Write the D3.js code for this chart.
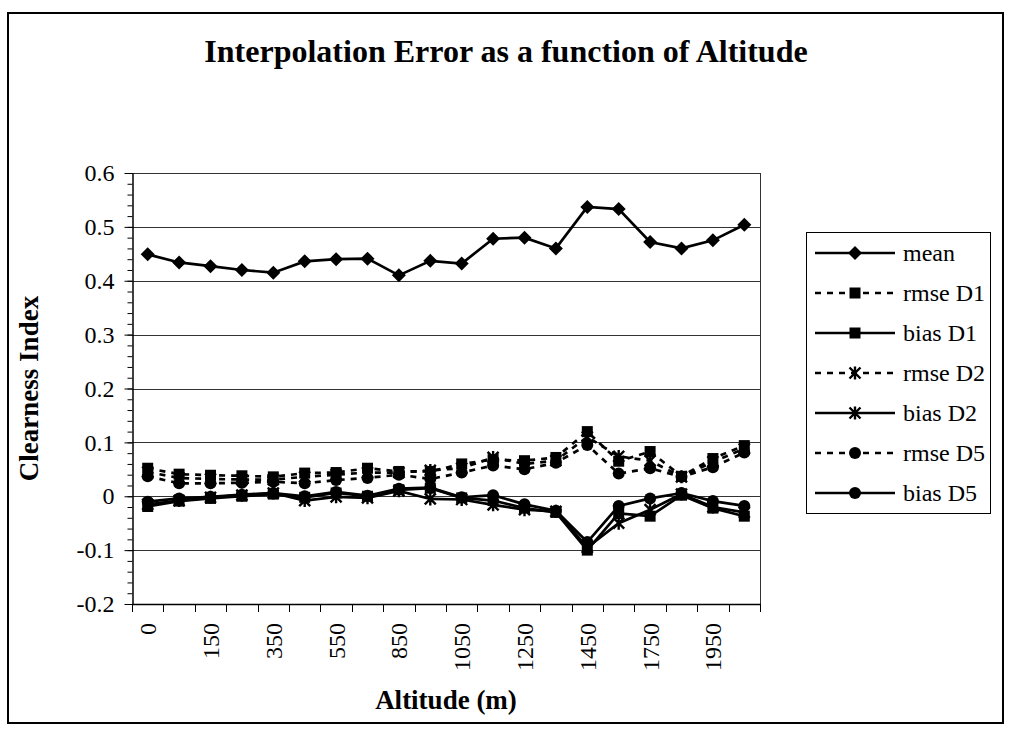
<!DOCTYPE html>
<html>
<head>
<meta charset="utf-8">
<script src="https://cdn.jsdelivr.net/npm/d3@7"></script>
<style>
  body { margin: 0; background: #fff; }
  svg { display: block; }
  svg text { font-family: "Liberation Serif", "Times New Roman", serif; fill: #000; }
</style>
</head>
<body>
<svg id="chart" width="1011" height="736"></svg>
<script>
// altitude classes (only every other one is labelled on the axis)
const altitudes = ['0', '50', '150', '250', '350', '450', '550', '650', '850', '950',
  '1050', '1150', '1250', '1350', '1450', '1550', '1750', '1850', '1950', '2050']

const mean   = [0.449, 0.434, 0.427, 0.420, 0.415, 0.436, 0.440, 0.441, 0.410, 0.437,
                0.432, 0.478, 0.480, 0.460, 0.537, 0.533, 0.472, 0.460, 0.475, 0.504]
const rmseD1 = [0.052, 0.041, 0.039, 0.038, 0.036, 0.043, 0.044, 0.052, 0.046, 0.046,
                0.060, 0.068, 0.066, 0.072, 0.120, 0.065, 0.083, 0.037, 0.070, 0.094]
const biasD1 = [-0.019, -0.009, -0.004, 0.000, 0.004, -0.002, 0.006, 0.000, 0.012, 0.015,
                -0.003, -0.008, -0.022, -0.030, -0.100, -0.032, -0.037, 0.002, -0.022, -0.037]
const rmseD2 = [0.045, 0.034, 0.032, 0.031, 0.031, 0.036, 0.040, 0.044, 0.044, 0.048,
                0.052, 0.072, 0.060, 0.066, 0.110, 0.074, 0.066, 0.036, 0.064, 0.088]
const biasD2 = [-0.015, -0.008, -0.002, 0.002, 0.006, -0.008, -0.001, -0.003, 0.010, -0.005,
                -0.006, -0.016, -0.025, -0.028, -0.095, -0.050, -0.025, 0.004, -0.020, -0.030]
const rmseD5 = [0.037, 0.024, 0.024, 0.025, 0.027, 0.024, 0.030, 0.034, 0.040, 0.032,
                0.044, 0.057, 0.050, 0.062, 0.095, 0.042, 0.052, 0.036, 0.054, 0.081]
const biasD5 = [-0.010, -0.004, -0.001, 0.003, 0.006, 0.000, 0.008, 0.001, 0.014, 0.016,
                -0.002, 0.002, -0.015, -0.027, -0.085, -0.018, -0.004, 0.006, -0.009, -0.018]

const yTicks = [-0.2, -0.1, 0, 0.1, 0.2, 0.3, 0.4, 0.5, 0.6]

const series = [
  {name: 'mean',    values: mean,   marker: 'diamond',  dashed: false},
  {name: 'rmse D1', values: rmseD1, marker: 'square',   dashed: true},
  {name: 'bias D1', values: biasD1, marker: 'square',   dashed: false},
  {name: 'rmse D2', values: rmseD2, marker: 'asterisk', dashed: true},
  {name: 'bias D2', values: biasD2, marker: 'asterisk', dashed: false},
  {name: 'rmse D5', values: rmseD5, marker: 'circle',   dashed: true},
  {name: 'bias D5', values: biasD5, marker: 'circle',   dashed: false},
]

const plot = {left: 132, right: 760, top: 173, bottom: 604}
const serif = '"Liberation Serif", "Times New Roman", serif'

const svg = d3.select('#chart')

// chart area frame
svg.append('rect')
  .attr('x', 8).attr('y', 13).attr('width', 995).attr('height', 710)
  .attr('fill', '#fff').attr('stroke', '#000').attr('stroke-width', 2)

svg.append('text')
  .attr('x', 506).attr('y', 62)
  .attr('text-anchor', 'middle')
  .attr('font-size', 32).attr('font-weight', 'bold')
  .text('Interpolation Error as a function of Altitude')

const x = d3.scaleBand()
  .domain(altitudes)
  .range([plot.left, plot.right])
  .padding(0)

const y = d3.scaleLinear()
  .domain([-0.2, 0.6])
  .range([plot.bottom, plot.top])

// gridlines
svg.append('g')
  .selectAll('line')
  .data(yTicks.slice(1))
  .join('line')
  .attr('x1', plot.left).attr('x2', plot.right)
  .attr('y1', (d) => Math.round(y(d)) + 0.5)
  .attr('y2', (d) => Math.round(y(d)) + 0.5)
  .attr('stroke', '#333').attr('stroke-width', 1)

// plot area border (right side)
svg.append('line')
  .attr('x1', plot.right + 0.5).attr('x2', plot.right + 0.5)
  .attr('y1', plot.top).attr('y2', plot.bottom)
  .attr('stroke', '#333')

// minor ticks on the value axis
const minorTicks = d3.range(-0.2, 0.6001, 0.02).map((v) => Math.round(v * 100) / 100)
svg.append('g')
  .attr('transform', `translate(${plot.left + 0.5},0)`)
  .call(d3.axisLeft(y).tickValues(minorTicks).tickSize(5).tickFormat(''))
  .call((g) => g.select('.domain').remove())
  .selectAll('line').attr('stroke', '#000')

// value axis
const yAxis = svg.append('g')
  .attr('transform', `translate(${plot.left + 0.5},0)`)
  .attr('font-family', serif)
  .call(d3.axisLeft(y).tickValues(yTicks).tickSize(8).tickPadding(10).tickSizeOuter(0)
    .tickFormat((d) => String(Math.round(d * 10) / 10)))
yAxis.attr('font-family', serif).attr('font-size', 24)
yAxis.select('.domain').attr('stroke', '#000').attr('stroke-width', 1.5)
yAxis.selectAll('text')
  .style('font-family', serif).style('font-size', '24px').attr('fill', '#000')

// category axis at the bottom
svg.append('line')
  .attr('x1', plot.left).attr('x2', plot.right + 1)
  .attr('y1', plot.bottom + 0.5).attr('y2', plot.bottom + 0.5)
  .attr('stroke', '#000').attr('stroke-width', 1.5)

const boundaries = altitudes.map((d) => x(d)).concat([plot.right])
svg.append('g')
  .selectAll('line')
  .data(boundaries)
  .join('line')
  .attr('x1', (d) => Math.round(d) + 0.5).attr('x2', (d) => Math.round(d) + 0.5)
  .attr('y1', plot.bottom).attr('y2', plot.bottom + 8)
  .attr('stroke', '#000')

svg.append('g')
  .selectAll('text')
  .data(altitudes.filter((d, i) => i % 2 === 0))
  .join('text')
  .attr('transform', (d) => `translate(${x(d) + x.bandwidth() / 2},${plot.bottom + 19}) rotate(-90)`)
  .attr('text-anchor', 'end')
  .attr('dy', '0.35em')
  .style('font-size', '24px')
  .text((d) => d)

svg.append('text')
  .attr('x', (plot.left + plot.right) / 2).attr('y', 709)
  .attr('text-anchor', 'middle')
  .attr('font-size', 27).attr('font-weight', 'bold')
  .text('Altitude (m)')

svg.append('text')
  .attr('transform', `translate(38,${(plot.top + plot.bottom) / 2}) rotate(-90)`)
  .attr('text-anchor', 'middle')
  .attr('font-size', 27).attr('font-weight', 'bold')
  .text('Clearness Index')

function drawMarker(g, kind) {
  if (kind === 'diamond') {
    g.append('path').attr('d', 'M0,-7L7,0L0,7L-7,0Z').attr('fill', '#000')
  } else if (kind === 'square') {
    g.append('rect').attr('x', -5.5).attr('y', -5.5).attr('width', 11).attr('height', 11).attr('fill', '#000')
  } else if (kind === 'circle') {
    g.append('circle').attr('r', 6).attr('fill', '#000')
  } else {
    g.append('path')
      .attr('d', 'M0,-6.5V6.5M-5.5,-5.5L5.5,5.5M-5.5,5.5L5.5,-5.5')
      .attr('stroke', '#000').attr('stroke-width', 2.4).attr('fill', 'none')
  }
}

const line = d3.line()
  .x((d, i) => x(altitudes[i]) + x.bandwidth() / 2)
  .y((d) => y(d))

series.forEach((s) => {
  const g = svg.append('g')
  g.append('path')
    .attr('d', line(s.values))
    .attr('fill', 'none')
    .attr('stroke', '#000')
    .attr('stroke-width', 2.7)
    .attr('stroke-dasharray', s.dashed ? '6,6' : null)
  g.selectAll('g')
    .data(s.values)
    .join('g')
    .attr('transform', (d, i) => `translate(${x(altitudes[i]) + x.bandwidth() / 2},${y(d)})`)
    .each(function () { drawMarker(d3.select(this), s.marker) })
})

// legend
const legend = svg.append('g').attr('transform', 'translate(806,232)')
legend.append('rect')
  .attr('x', 0.5).attr('y', 0.5).attr('width', 184).attr('height', 281)
  .attr('fill', '#fff').attr('stroke', '#000')

const item = legend.selectAll('g')
  .data(series)
  .join('g')
  .attr('transform', (d, i) => `translate(0,${21 + i * 40})`)

item.append('line')
  .attr('x1', 9).attr('x2', 89)
  .attr('stroke', '#000').attr('stroke-width', 2.7)
  .attr('stroke-dasharray', (d) => d.dashed ? '6,6' : null)

item.append('g')
  .attr('transform', 'translate(49,0)')
  .each(function (d) { drawMarker(d3.select(this), d.marker) })

item.append('text')
  .attr('x', 97)
  .attr('dy', '0.35em')
  .style('font-size', '24px')
  .text((d) => d.name)
</script>
</body>
</html>
